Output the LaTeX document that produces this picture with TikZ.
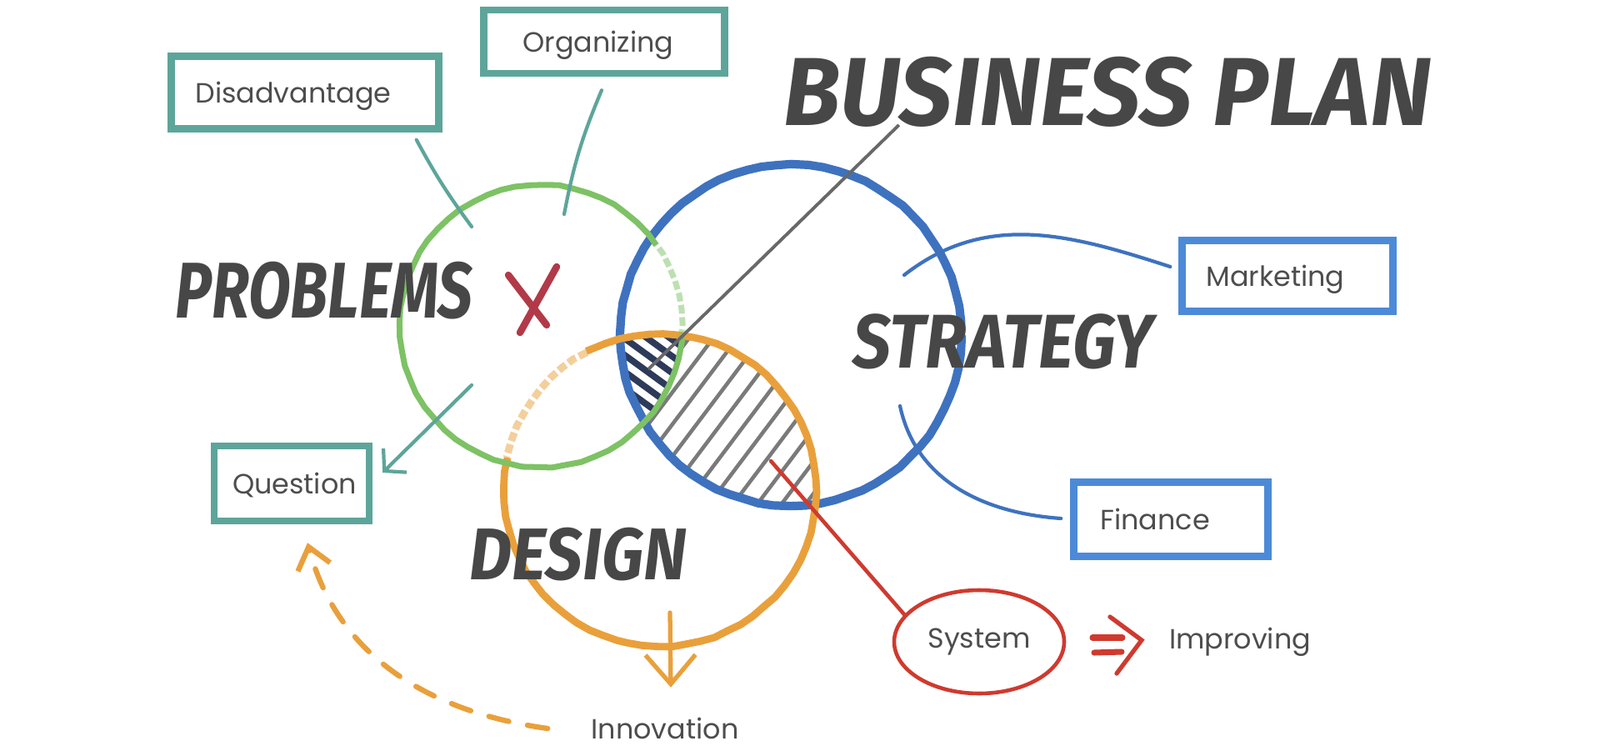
\documentclass[tikz,border=0pt]{standalone}
\usepackage{fontspec}
\setmainfont{Poppins}
\newfontfamily\brushfont{Fira Sans}
\usetikzlibrary{arrows.meta,calc,decorations.pathmorphing,shapes.geometric,positioning}

\definecolor{inkgray}{HTML}{4D4D4D}
\definecolor{brushink}{HTML}{474747}
\definecolor{ringgreen}{HTML}{7DC264}
\definecolor{ringblue}{HTML}{3E72BF}
\definecolor{ringorange}{HTML}{E9A03B}
\definecolor{boxteal}{HTML}{5DA59A}
\definecolor{boxblue}{HTML}{4C8AD8}
\definecolor{crossred}{HTML}{B23A48}
\definecolor{markred}{HTML}{CF3A2F}
\definecolor{hatchgray}{HTML}{7A7A7A}
\definecolor{hatchnavy}{HTML}{2D3A5A}

\tikzset{
  lbltext/.style={text=inkgray, font=\fontsize{9.5}{11}\selectfont},
  brushtext/.style={text=brushink, inner sep=2pt,
    font=\brushfont\bfseries\itshape\fontsize{#1}{#1}\selectfont},
  tealbox/.style={lbltext, draw=boxteal, line width=2.4pt, align=left,
    text height=0.7em, text depth=0pt, inner ysep=0pt},
  bluebox/.style={tealbox, draw=boxblue},
  sketchy/.style={decorate, decoration={random steps, segment length=5pt, amplitude=0.2pt}},
  faded/.style={opacity=0.5, dash pattern=on 3pt off 1.2pt},
  tealline/.style={boxteal, line width=1.2pt, line cap=round},
  blueline/.style={ringblue, line width=1.2pt, line cap=round},
  redline/.style={markred, line width=1.3pt, line cap=round},
}

\begin{document}
\begin{tikzpicture}
    \useasboundingbox (0,0) rectangle (19.2,9);
    \fill[white] (0,0) rectangle (19.2,9);

    \coordinate (gC) at (6.49,5.09);
    \coordinate (bC) at (9.49,4.98);
    \coordinate (oC) at (7.92,3.12);

    % hatching in the overlap of strategy and design
    \begin{scope}
        \clip (bC) circle (2.04);
        \clip (oC) circle (1.87);
        \begin{scope}[even odd rule]
            \clip (0,0) rectangle (19.2,9) (gC) circle (1.69);
            \foreach \i in {0,...,20}
                \draw[hatchgray, line width=1.3pt, line cap=round] (4.6+0.29*\i,2.0) -- ++(53:4.5);
        \end{scope}
        \clip (gC) circle (1.69);
        \foreach \i in {0,...,8}
            \draw[hatchnavy, line width=2.2pt, line cap=round] (7.0,4.5+0.2*\i) -- ++(-36:2.2);
    \end{scope}

    % the three rings
    \draw[sketchy, ringblue, line width=2.9pt] (bC) circle (2.04);
    \draw[sketchy, ringorange, line width=2.5pt] ([shift={(168:1.87)}]oC) arc[start angle=168, end angle=478, radius=1.87];
    \draw[sketchy, ringorange, line width=2.5pt, faded] ([shift={(118:1.87)}]oC) arc[start angle=118, end angle=168, radius=1.87];
    \draw[sketchy, ringgreen, line width=2pt] ([shift={(35:1.69)}]gC) arc[start angle=35, end angle=355, radius=1.69];
    \draw[sketchy, ringgreen, line width=2pt, faded] ([shift={(-5:1.69)}]gC) arc[start angle=-5, end angle=35, radius=1.69];

    % cross
    \draw[crossred, line width=2.4pt, line cap=round] (6.10,5.70) -- (6.56,5.10);
    \draw[crossred, line width=2.4pt, line cap=round] (6.68,5.80) -- (6.24,5.01);

    \node[brushtext=33] (title) at (13.29,7.90) {\scalebox{0.967}[1]{BUSINESS PLAN}};
    \node[brushtext=27] (problems) at (3.89,5.51) {\scalebox{0.78}[1]{PROBLEMS}};
    \node[brushtext=26] (strategy) at (12.04,4.90) {\scalebox{0.89}[1]{STRATEGY}};
    \node[brushtext=25] (design) at (6.94,2.35) {\scalebox{0.90}[1]{DESIGN}};

    \node[tealbox, text width=1.95cm, inner xsep=0.47cm, minimum height=0.76cm] (organiz) at (7.25,8.50) {Organizing};
    \node[tealbox, text width=2.63cm, inner xsep=0.29cm, minimum height=0.87cm] (disadv) at (3.66,7.89) {Disadvantage};
    \node[tealbox, text width=1.42cm, inner xsep=0.22cm, minimum height=0.90cm] (question) at (3.50,3.20) {Question};
    \node[bluebox, text width=1.95cm, inner xsep=0.29cm, minimum height=0.85cm] (marketing) at (15.45,5.69) {Marketing};
    \node[bluebox, text width=1.69cm, inner xsep=0.32cm, minimum height=0.89cm] (finance) at (14.05,2.77) {Finance};

    \node[lbltext, ellipse, draw=markred, line width=1.3pt, inner sep=0pt,
          minimum width=2.04cm, minimum height=1.24cm] (system) at (11.75,1.30) {System};
    \node[lbltext] (improving) at (14.88,1.30) {Improving};
    \node[lbltext] (innov) at (7.98,0.26) {Innovation};

    \coordinate (disadvend) at (5.66,6.28);
    \coordinate (organizend) at (6.77,6.43);
    \coordinate (queststart) at (5.66,4.38);
    \coordinate (mktstart) at (10.85,5.70);
    \coordinate (finstart) at (10.80,4.13);
    \coordinate (lenstop) at (7.78,4.57);
    \coordinate (lensbottom) at (9.25,3.47);
    \coordinate (dsgnout) at (8.04,1.65);

    % connectors
    \draw[tealline] ([shift={(-0.31,-0.09)}]disadv.south east) to[bend right=4] (disadvend);
    \draw[tealline] ([shift={(-0.03,-0.16)}]organiz.south) to[bend right=6] (organizend);
    \draw[tealline, -{Straight Barb[length=1.8mm, width=4mm]}] (queststart) -- ([shift={(0.12,0.13)}]question.east);
    \draw[blueline] (mktstart) to[out=38, in=162] ([shift={(-0.10,0.11)}]marketing.west);
    \draw[blueline] (finstart) to[out=-78, in=176] ([shift={(-0.11,0.01)}]finance.west);
    \draw[hatchgray!85!black, line width=1.1pt] ([shift={(1.46,0.1)}]title.south west) -- (lenstop);
    \draw[redline] (lensbottom) -- (system.160);
    \draw[ringorange, line width=1.5pt, line cap=round, -{Straight Barb[length=3.5mm, width=6mm]}]
        (dsgnout) -- ([shift={(0.07,0.24)}]innov.north);
    \draw[ringorange, line width=1.8pt, line cap=round, dash pattern=on 7pt off 6.5pt,
          -{Straight Barb[length=2.5mm, width=4mm]}]
        ([xshift=-0.4cm]innov.west) to[out=172, in=-75] ([shift={(0.19,-0.22)}]question.south);

    % implies mark
    \coordinate (impl) at ($(system.east)!0.5!(improving.west)$);
    \draw[redline, line width=2pt] ([shift={(-0.24,0.05)}]impl) -- ++(0.36,0);
    \draw[redline, line width=2pt] ([shift={(-0.22,-0.13)}]impl) -- ++(0.33,0.01);
    \draw[redline, line width=1.5pt] ([shift={(-0.03,0.30)}]impl) -- ++(0.38,-0.28) -- ++(-0.30,-0.40);
\end{tikzpicture}
\end{document}
